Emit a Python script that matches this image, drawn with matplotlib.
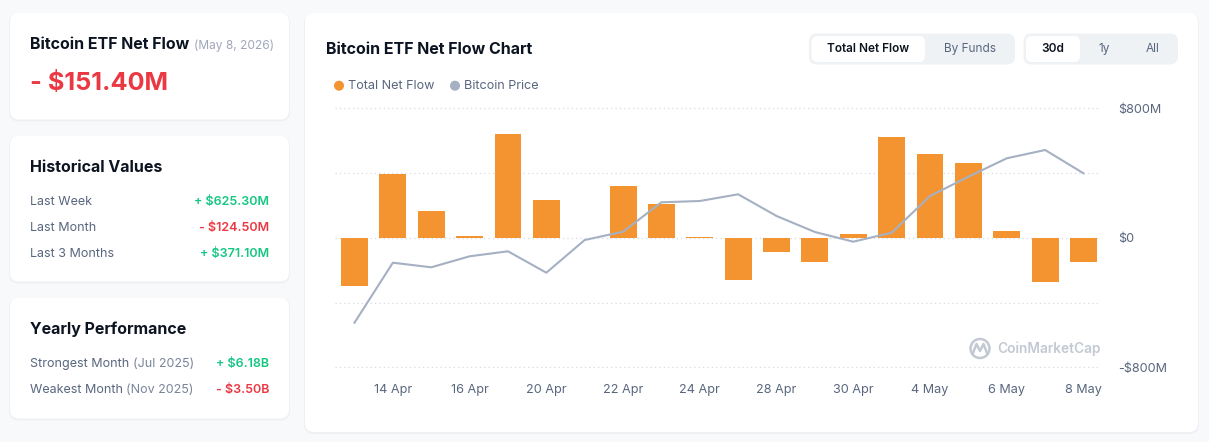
import numpy as np
import matplotlib.pyplot as plt
from matplotlib.patches import FancyBboxPatch, Circle

# -------------------------
# Data
# -------------------------
dates = ["13 Apr", "14 Apr", "15 Apr", "16 Apr", "17 Apr", "20 Apr", "21 Apr",
         "22 Apr", "23 Apr", "24 Apr", "27 Apr", "28 Apr", "29 Apr", "30 Apr",
         "1 May", "4 May", "5 May", "6 May", "7 May", "8 May"]
net_flow = [-297, 394, 165, 10, 641, 233, 0, 322, 210, 6,
            -260, -87, -148, 23, 623, 518, 462, 41, -272, -151.4]   # $M
btc_price = [74000, 77000, 76770, 77320, 77570, 76500, 78135, 78550, 80020, 80085,
             80420, 79335, 78535, 78050, 78500, 80335, 81300, 82220, 82635, 81470]
tick_labels = ["14 Apr", "16 Apr", "20 Apr", "22 Apr", "24 Apr",
               "28 Apr", "30 Apr", "4 May", "6 May", "8 May"]
y_ticks = [-800, -400, 0, 400, 800]
y_labels = ["-$800M", "", "$0", "", "$800M"]

hist_names = ["Last Week", "Last Month", "Last 3 Months"]
hist_values = ["+ $625.30M", "- $124.50M", "+ $371.10M"]
year_names = ["Strongest Month", "Weakest Month"]
year_when = ["(Jul 2025)", "(Nov 2025)"]
year_values = ["+ $6.18B", "- $3.50B"]

# -------------------------
# Styles
# -------------------------
W, H, DPI = 1209, 442, 100
BG = "#f8f9fb"
DARK = "#0d1421"
GRAY = "#58667e"
LIGHT = "#a1a7bb"
GREEN = "#16c784"
RED = "#ea3943"
ORANGE = "#f39431"
LINE = "#a6b0c3"

plt.rcParams['font.family'] = ['Inter', 'DejaVu Sans']

fig = plt.figure(figsize=(W / DPI, H / DPI), dpi=DPI)
fig.patch.set_facecolor(BG)

# background layer in pixel coordinates
bg = fig.add_axes([0, 0, 1, 1])
bg.set_xlim(0, W)
bg.set_ylim(H, 0)
bg.axis("off")


def box(x0, y0, x1, y1, r, fc, ec="none", lw=0):
    bg.add_patch(FancyBboxPatch((x0, y0), x1 - x0, y1 - y0,
                                boxstyle=f"round,pad=0,rounding_size={r}",
                                fc=fc, ec=ec, lw=lw))


def card(x0, y0, x1, y1):
    box(x0 - 1, y0, x1 + 1, y1 + 2, 10, "#eef0f4")
    box(x0, y0, x1, y1, 9, "white")


def txt(x, y, s, size, color, weight="normal", ha="left"):
    bg.text(x, y + 1, s, fontsize=size, color=color, fontweight=weight,
            ha=ha, va="center")


# -------------------------
# Left cards
# -------------------------
card(10, 13, 289, 119.5)
card(10, 136, 289, 281.5)
card(10, 298, 289, 418.5)
card(305, 13, 1198, 432)

txt(30, 43.5, "Bitcoin ETF Net Flow", 11.5, DARK, "bold")
txt(194, 44.5, "(May 8, 2026)", 8.6, LIGHT)
txt(30, 83, "- $151.40M", 18.2, RED, "bold")

txt(30, 166, "Historical Values", 11.5, DARK, "bold")
for i, (name, val) in enumerate(zip(hist_names, hist_values)):
    y = 200.7 + i * 26
    txt(30, y, name, 9.0, GRAY)
    txt(269, y, val, 9.0, GREEN if val.startswith("+") else RED, "semibold", "right")

txt(30, 328.5, "Yearly Performance", 11.5, DARK, "bold")
for i, (name, when, val) in enumerate(zip(year_names, year_when, year_values)):
    y = 364.3 + i * 26
    t = bg.text(30, y, name + " ", fontsize=9.0, color=GRAY, va="center")
    bg.annotate(when, xycoords=t, xy=(1, 0.5), va="center", fontsize=9.0, color="#7a8499")
    txt(269, y - 1, val, 9.0, GREEN if val.startswith("+") else RED, "semibold", "right")

# -------------------------
# Chart header
# -------------------------
txt(325.5, 48.5, "Bitcoin ETF Net Flow Chart", 11.5, DARK, "bold")

bg.add_patch(Circle((339, 85.7), 4.3, color=ORANGE))
txt(348.5, 85, "Total Net Flow", 9.1, GRAY)
bg.add_patch(Circle((455, 85.7), 4.3, color=LINE))
txt(464, 85, "Bitcoin Price", 9.1, GRAY)

box(809, 33.5, 1015, 64.5, 8, "#eff2f5")
box(811.5, 36, 925, 62, 6, "white")
txt(868, 48, "Total Net Flow", 8.5, DARK, "semibold", "center")
txt(970, 48, "By Funds", 8.5, GRAY, "normal", "center")

box(1023.5, 33.5, 1178, 64.5, 8, "#eff2f5")
box(1026, 36, 1080, 62, 6, "white")
txt(1052.5, 48, "30d", 8.5, DARK, "semibold", "center")
txt(1104.5, 48, "1y", 8.5, GRAY, "normal", "center")
txt(1152.5, 48, "All", 8.5, GRAY, "normal", "center")

# watermark
bg.add_patch(Circle((980, 348.5), 9.5, fill=False, ec="#c3c9d3", lw=1.8))
bg.plot([973, 976.5, 980, 983.5, 987], [353, 344, 351, 344, 353], color="#c3c9d3", lw=1.8)
txt(997, 348, "CoinMarketCap", 9.9, "#c3c9d3", "semibold")

# -------------------------
# Chart
# -------------------------
left, right, top, bottom = 335, 1100, 108.3, 367.3
ax = fig.add_axes([left / W, 1 - bottom / H, (right - left) / W, (bottom - top) / H])
ax.set_facecolor("none")

x = np.arange(len(dates))
ax.bar(x, net_flow, width=0.7, color=ORANGE, zorder=2)
ax.set_xlim(-0.508, 19.43)
ax.set_ylim(-800, 800)

ax2 = ax.twinx()
ax2.plot(x, btc_price, color=LINE, lw=1.5, zorder=3)
ax2.set_ylim(71770, 84720)
ax2.axis("off")

ax.set_yticks(y_ticks)
ax.set_yticklabels(y_labels)
ax.yaxis.tick_right()
ax.grid(axis="y", linestyle=(0, (1, 2.5)), color="#d5dae2", lw=0.9, zorder=0)
for gl in ax.get_ygridlines():
    gl.set_clip_on(False)

ax.set_xticks(x[1::2])
ax.set_xticklabels(tick_labels)
ax.tick_params(length=0, labelsize=9.1, labelcolor=GRAY)
ax.tick_params(axis="y", pad=13)
ax.tick_params(axis="x", pad=12)
for s in ax.spines.values():
    s.set_visible(False)

fig.savefig("out.png", dpi=DPI, facecolor=BG)
